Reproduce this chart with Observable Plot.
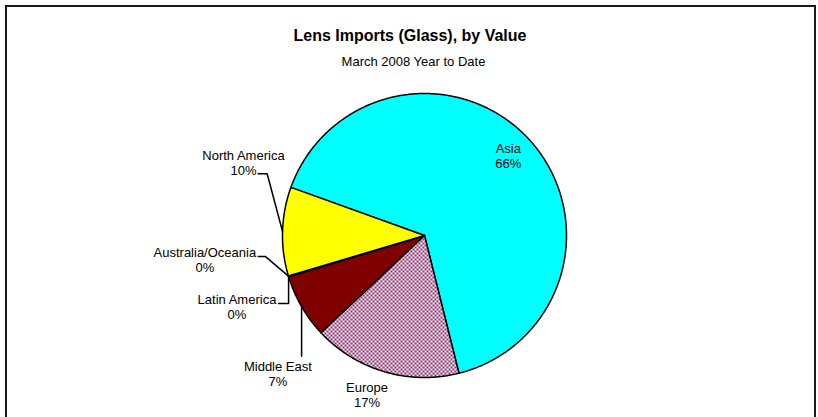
<!DOCTYPE html>
<html><head><meta charset="utf-8">
<script src="https://cdn.jsdelivr.net/npm/d3@7"></script>
<script src="https://cdn.jsdelivr.net/npm/@observablehq/plot@0.6"></script>
<style>
html,body{margin:0;padding:0;background:#fff;overflow:hidden;}
#wrap{position:relative;width:818px;height:417px;overflow:hidden;}
#chart{position:absolute;left:0;top:0;}
#frame{position:absolute;left:5px;top:5px;width:807px;height:440px;border:2px solid #1a1a1a;pointer-events:none;}
</style></head><body>
<div id="wrap"><div id="chart"></div><div id="frame"></div></div>
<script>
// ---- data ----
const title = "Lens Imports (Glass), by Value";
const subtitle = "March 2008 Year to Date";
const regions = ["Asia", "Europe", "Middle East", "Latin America", "Australia/Oceania", "North America"];
const shares = [65.6, 16.9, 7.3, 0.05, 0.05, 10.1];
const pctLabels = ["66%", "17%", "7%", "0%", "0%", "10%"];
const sliceFills = ["#00FFFF", "url(#europe-dots)", "#800000", "#800000", "#FFFFFF", "#FFFF00"];

// ---- layout (pixels) ----
const W = 818, H = 417, CX = 424, CY = 235, R = 142;
const START_DEG = -70.2;
const FONT = "Arial, 'Liberation Sans', Helvetica, sans-serif";
// label text anchor offsets from each slice's mid-angle edge point (px, y down)
const labelOffsets = [[-21.5, 28.1], [-17.4, 34.9], [-23.7, 79], [-51.6, 42.7], [-83.6, -3.9], [-39.1, -56]];
// leader routes (px offsets from the slice edge point), empty = no leader
const leaderRoutes = [[], [], [[0, 49.5], [0, 0]], [[-10, 27], [0, 27], [0, 0]], [[-30.2, -19.6], [-22.9, -19.6], [0, 0]], [[-24.4, -57.7], [-15.4, -57.7], [0, 0]]];

const rows = regions.map((name, i) => ({name, share: shares[i], pct: pctLabels[i], fill: sliceFills[i], i}));
const start = START_DEG * Math.PI / 180;
const arcs = d3.pie().sort(null).value(d => d.share).startAngle(start).endAngle(start + 2 * Math.PI)(rows);

function slicePoints(a) {
  const pts = [{x: 0, y: 0}];
  const n = Math.max(2, Math.ceil((a.endAngle - a.startAngle) / (Math.PI / 360)));
  for (let k = 0; k <= n; k++) {
    const t = a.startAngle + (a.endAngle - a.startAngle) * k / n;
    pts.push({x: Math.sin(t), y: Math.cos(t)});
  }
  return pts;
}

const labels = arcs.map(a => {
  const mid = (a.startAngle + a.endAngle) / 2;
  const ex = Math.sin(mid), ey = Math.cos(mid);
  const [ox, oy] = labelOffsets[a.data.i];
  return {
    ex, ey,
    lx: ex + ox / R, ly: ey - oy / R,
    text: a.data.name + "\n" + a.data.pct,
    leader: leaderRoutes[a.data.i].map(([px, py]) => ({x: ex + px / R, y: ey - py / R}))
  };
});

const marks = [];
arcs.forEach(a => {
  marks.push(Plot.line(slicePoints(a), {
    x: "x", y: "y", curve: "linear-closed",
    fill: a.data.fill, stroke: "#000", strokeWidth: 1.5, strokeLinejoin: "round"
  }));
});
labels.forEach(l => {
  if (l.leader.length) marks.push(Plot.line(l.leader, {x: "x", y: "y", stroke: "#000", strokeWidth: 1.5}));
});
marks.push(Plot.text(labels, {
  x: "lx", y: "ly", text: "text", textAnchor: "middle", lineAnchor: "bottom",
  lineHeight: 15 / 13, fontSize: 13, fontFamily: FONT, fill: "#000"
}));
marks.push(Plot.text([title], {
  text: d => d, frameAnchor: "top", dx: 0.5, dy: 40, lineAnchor: "bottom",
  fontSize: 16, fontWeight: "bold", fontFamily: FONT, fill: "#000"
}));
marks.push(Plot.text([subtitle], {
  text: d => d, frameAnchor: "top", dx: 4, dy: 65, lineAnchor: "bottom",
  fontSize: 13, fontFamily: FONT, fill: "#000"
}));

const plot = Plot.plot({
  width: W, height: H,
  marginTop: 0, marginRight: 0, marginBottom: 0, marginLeft: 0,
  x: {domain: [(0 - CX) / R, (W - CX) / R], axis: null},
  y: {domain: [(CY - H) / R, CY / R], axis: null},
  style: {background: "#fff", fontFamily: FONT},
  marks
});

// dotted pattern fill for Europe
const ns = "http://www.w3.org/2000/svg";
const defs = document.createElementNS(ns, "defs");
const pat = document.createElementNS(ns, "pattern");
pat.setAttribute("id", "europe-dots");
pat.setAttribute("width", 4); pat.setAttribute("height", 4);
pat.setAttribute("patternUnits", "userSpaceOnUse");
[[0, 0, 4, 4, "#ffffff"], [0, 0, 2, 2, "#8e2a6e"], [2, 2, 2, 2, "#8e2a6e"]].forEach(([x, y, w, h, c]) => {
  const r = document.createElementNS(ns, "rect");
  r.setAttribute("x", x); r.setAttribute("y", y); r.setAttribute("width", w); r.setAttribute("height", h); r.setAttribute("fill", c);
  pat.appendChild(r);
});
defs.appendChild(pat);
plot.insertBefore(defs, plot.firstChild);

document.getElementById("chart").appendChild(plot);
</script>
</body></html>
